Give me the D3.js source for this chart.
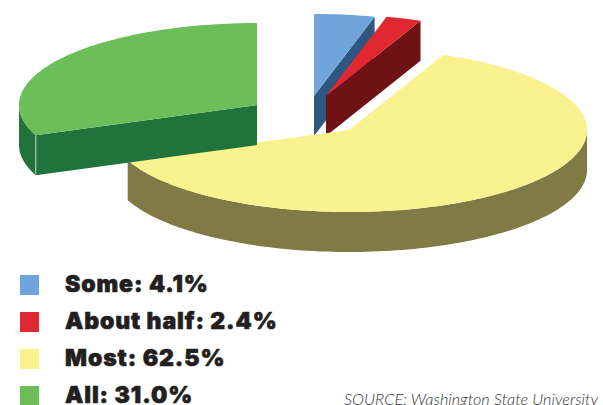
<!DOCTYPE html>
<html><head><meta charset="utf-8">
<script src="https://cdn.jsdelivr.net/npm/d3@7"></script>
<style>html,body{margin:0;padding:0;background:#fff;overflow:hidden}svg{display:block}</style>
</head><body><svg id="c" width="603" height="405"></svg>
<script>
const categories = ["Some","About half","Most","All"];
const shares = [4.1,2.4,62.5,31.0];
const shareLabels = ["4.1%","2.4%","62.5%","31.0%"];
const topColors = ["#6fa5da","#e1272f","#faf28e","#6cbf58"];
const sideColors = ["#2f5681","#6e1216","#807a45","#1f733b"];
const sliceCentres = [[314,96],[326,96],[349,130],[257,105]];
const RX=238, RY=82, DEPTH=40;
const svg=d3.select("#c");
const pie=d3.pie().sort(null).value(d=>d)(shares);
const line=d3.line();
const proj=(i,a,dz=0)=>[sliceCentres[i][0]+RX*Math.sin(a), sliceCentres[i][1]-RY*Math.cos(a)+dz];
const arcPts=(i,a0,a1,dz=0)=>{const n=Math.max(2,Math.ceil(Math.abs(a1-a0)*40));
  return d3.range(n+1).map(k=>proj(i,a0+(a1-a0)*k/n,dz));};
const poly=(pts,fill)=>svg.append("path").attr("d",line(pts)+"Z").attr("fill",fill);
const sideWall=(i,a0,a1)=>poly(arcPts(i,a0,a1).concat(arcPts(i,a1,a0,DEPTH)),sideColors[i]);
const cutFace=(i,a)=>{const c=sliceCentres[i];
  poly([c,proj(i,a),proj(i,a,DEPTH),[c[0],c[1]+DEPTH]],sideColors[i]);};
const topFace=(i,a0,a1)=>poly([sliceCentres[i]].concat(arcPts(i,a0,a1)),topColors[i]);
cutFace(0,pie[0].endAngle); topFace(0,pie[0].startAngle,pie[0].endAngle);
cutFace(1,pie[1].endAngle); topFace(1,pie[1].startAngle,pie[1].endAngle);
sideWall(2,Math.PI/2,pie[2].endAngle); topFace(2,pie[2].startAngle,pie[2].endAngle);
sideWall(3,pie[3].startAngle,Math.PI*1.5); cutFace(3,pie[3].startAngle);
const p0=proj(3,pie[3].startAngle);
svg.append("line").attr("x1",p0[0]).attr("y1",p0[1]).attr("x2",p0[0]).attr("y2",p0[1]+DEPTH-1)
  .attr("stroke","#a5c9b2").attr("stroke-width",1.2);
topFace(3,pie[3].startAngle,pie[3].endAngle);
const y=d3.scaleBand().domain(categories).range([268,416]);
categories.forEach((c,i)=>{
  const yy=y(c);
  svg.append("rect").attr("x",20).attr("y",yy+7).attr("width",19).attr("height",20).attr("fill",topColors[i]);
  svg.append("text").attr("x",65).attr("y",yy+24).attr("font-family","Inter").attr("font-weight",900)
    .attr("font-size",23).attr("letter-spacing",0.9).attr("stroke","#231f20").attr("stroke-width",0.6)
    .attr("fill","#231f20").text(`${c}: ${shareLabels[i]}`);
});
svg.append("text").attr("x",344).attr("y",405).attr("font-family","Lato").attr("font-weight",300)
  .attr("font-style","italic").attr("font-size",16.3).attr("fill","#333").text("SOURCE: Washington State University");
</script></body></html>
